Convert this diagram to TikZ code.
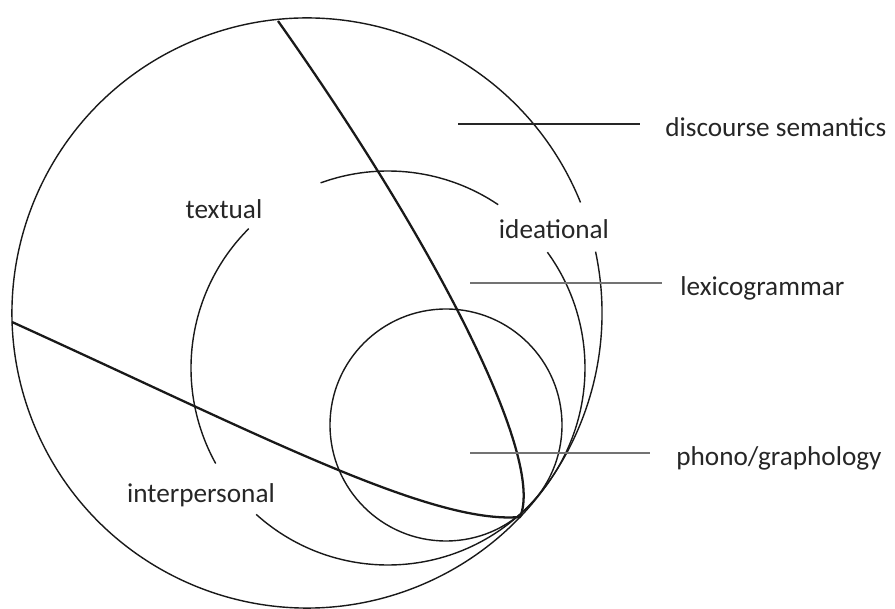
\documentclass[tikz,border=0pt]{standalone}
\usepackage{fontspec}
\setmainfont{Carlito}
\usetikzlibrary{positioning}

\begin{document}
\begin{tikzpicture}[x=0.02cm, y=0.02cm,
  ring/.style={line width=0.8pt, black!90},
  border/.style={line width=1.3pt, black!90},
  lead/.style={line width=1.1pt, black!85},
  leadg/.style={line width=1.6pt, black!55},
  lbl/.style={font=\fontsize{15.5}{18}\selectfont, text=black!85, inner sep=0pt},
]
\useasboundingbox (0,0) rectangle (895,608);

%% ---- Circle centres and radii
\def\radO{295} % discourse semantics
\def\radM{197} % lexicogrammar
\def\radS{116} % phono/graphology
\coordinate (co) at (307,295);
\coordinate (cm) at (388,240);
\coordinate (cs) at (446,183);

%% ---- Outer circle, open at the ideational label
\draw[ring] (co) ++(22:\radO) arc[start angle=22, end angle=372, radius=\radO];

%% ---- Middle circle, broken at the three labels
\draw[ring] (cm) ++(56:\radM) arc[start angle=56, end angle=110, radius=\radM];
\draw[ring] (cm) ++(135:\radM) arc[start angle=135, end angle=209, radius=\radM];
\draw[ring] (cm) ++(228:\radM) arc[start angle=228, end angle=396, radius=\radM];

%% ---- Inner circle
\draw[ring] (cs) circle[radius=\radS];

%% ---- Boundary curve through the tip
\coordinate (bl)  at (12,286);
\coordinate (tip) at (520,91);
\coordinate (bt)  at (278,587);
\draw[border] (bl) .. controls (250,178) and (430,83) .. (tip)
  .. controls (545,148) and (440,358) .. (bt);

%% ---- Function labels
\node[lbl] (tx) at (224,399) {textual};
\node[lbl] (id) at (554,379) {ideational};
\node[lbl] (ip) at (201,113) {interpersonal};

%% ---- Stratum labels with leader lines
\node[lbl, anchor=west] (ds) at (665,481) {discourse semantics};
\node[lbl, anchor=west] (lg) at (680,320) {lexicogrammar};
\node[lbl, anchor=west] (pg) at (676,150) {phono/graphology};

\coordinate (dsA) at (458,484); \coordinate (dsB) at (640,484);
\coordinate (lgA) at (470,325); \coordinate (lgB) at (662,325);
\coordinate (pgA) at (470,155); \coordinate (pgB) at (650,155);
\draw[lead]  (dsA) -- (dsB);
\draw[leadg] (lgA) -- (lgB);
\draw[leadg] (pgA) -- (pgB);

\end{tikzpicture}
\end{document}
